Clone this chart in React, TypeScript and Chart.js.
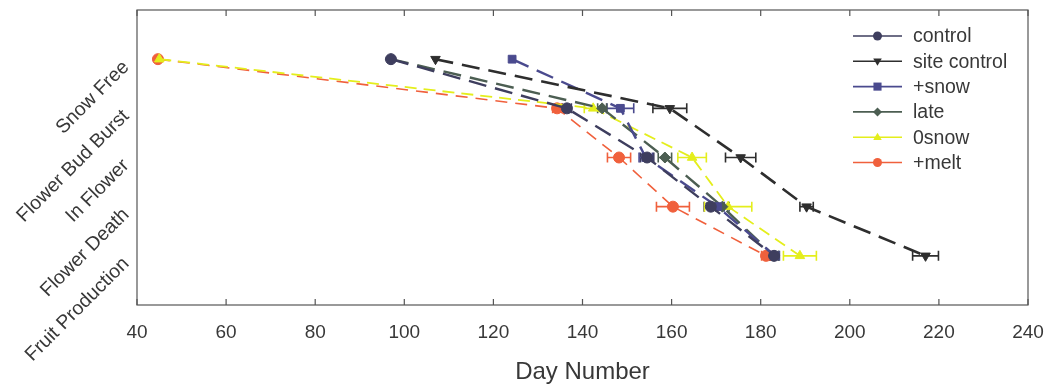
import React, { useEffect, useRef } from "react";
import { Chart, registerables } from "chart.js";

Chart.register(...registerables);

const categories = ["Snow Free", "Flower Bud Burst", "In Flower", "Flower Death", "Fruit Production"];
const seriesNames = ["control", "site control", "+snow", "late", "0snow", "+melt"];

const controlDays = [97, 136.5, 154.5, 168.8, 183];
const siteControlDays = [107, 159.6, 175.5, 190.3, 217];
const plusSnowDays = [124.2, 148.5, 154.2, 170.3, 183.2];
const lateDays = [97, 144.4, 158.5, 171.4, 183];
const zeroSnowDays = [45, 142.4, 164.6, 172.7, 188.8];
const plusMeltDays = [44.7, 134.3, 148.2, 160.3, 181.2];

const controlErr = [0, 1, 1.5, 1.5, 1];
const siteControlErr = [0, 3.8, 3.4, 1.5, 2.9];
const plusSnowErr = [0, 3, 1.5, 1.5, 1];
const lateErr = [0, 1, 1.5, 1.5, 1];
const zeroSnowErr = [0, 2, 3.2, 5.3, 3.7];
const plusMeltErr = [0, 1, 2.6, 3.7, 1];

const xMin = 40;
const xMax = 240;
const xStep = 20;

const allDays = [controlDays, siteControlDays, plusSnowDays, lateDays, zeroSnowDays, plusMeltDays];
const allErrs = [controlErr, siteControlErr, plusSnowErr, lateErr, zeroSnowErr, plusMeltErr];
const colors = ["#3e3e5e", "#2e2e2e", "#4a4a8e", "#4c5e52", "#e4ee1c", "#f0603c"];
const pointStyles = ["circle", "triangle", "rect", "rectRot", "triangle", "circle"];
const rotations = [0, 180, 0, 0, 0, 0];
const dashes = [[18, 9], [18, 9], [18, 9], [18, 9], [12, 7], [12, 8]];
const widths = [2.4, 2.6, 2.4, 2.4, 1.8, 1.6];

const FONT = "'Liberation Sans', Arial, sans-serif";
const TEXT = "#383838";

function drawMarker(ctx: CanvasRenderingContext2D, style: string, rot: number, x: number, y: number, r: number) {
  ctx.save();
  ctx.translate(x, y);
  ctx.rotate((rot * Math.PI) / 180);
  ctx.beginPath();
  if (style === "circle") {
    ctx.arc(0, 0, r, 0, Math.PI * 2);
  } else if (style === "rect") {
    const s = r * 0.9;
    ctx.rect(-s, -s, 2 * s, 2 * s);
  } else if (style === "rectRot") {
    ctx.moveTo(0, -r);
    ctx.lineTo(r, 0);
    ctx.lineTo(0, r);
    ctx.lineTo(-r, 0);
    ctx.closePath();
  } else if (style === "triangle") {
    ctx.moveTo(0, -r);
    ctx.lineTo(r * 0.95, r * 0.6);
    ctx.lineTo(-r * 0.95, r * 0.6);
    ctx.closePath();
  }
  ctx.fill();
  ctx.restore();
}

const frameAndExtras = {
  id: "frameAndExtras",
  beforeDatasetsDraw(chart: any) {
    const ctx = chart.ctx as CanvasRenderingContext2D;
    const xs = chart.scales.x;
    const ys = chart.scales.y;
    ctx.save();
    allDays.forEach((days, si) => {
      const errs = allErrs[si];
      ctx.strokeStyle = colors[si];
      ctx.lineWidth = 1.6;
      ctx.setLineDash([]);
      days.forEach((d, ci) => {
        const e = errs[ci];
        if (!e) return;
        const y = ys.getPixelForValue(ci + 1);
        const x1 = xs.getPixelForValue(d - e);
        const x2 = xs.getPixelForValue(d + e);
        ctx.beginPath();
        ctx.moveTo(x1, y);
        ctx.lineTo(x2, y);
        ctx.moveTo(x1, y - 5);
        ctx.lineTo(x1, y + 5);
        ctx.moveTo(x2, y - 5);
        ctx.lineTo(x2, y + 5);
        ctx.stroke();
      });
    });
    ctx.restore();
  },
  afterDraw(chart: any) {
    const ctx = chart.ctx as CanvasRenderingContext2D;
    const { left, right, top, bottom } = chart.chartArea;
    const xs = chart.scales.x;
    ctx.save();
    ctx.strokeStyle = "#555";
    ctx.lineWidth = 1.2;
    ctx.setLineDash([]);
    ctx.strokeRect(left, top, right - left, bottom - top);
    xs.ticks.forEach((t: any) => {
      const px = xs.getPixelForValue(t.value);
      ctx.beginPath();
      ctx.moveTo(px, bottom);
      ctx.lineTo(px, bottom - 6);
      ctx.moveTo(px, top);
      ctx.lineTo(px, top + 6);
      ctx.stroke();
    });
    // legend
    const lx0 = right - 175;
    const lx1 = right - 126;
    const tx = right - 115;
    ctx.font = `19.5px ${FONT}`;
    ctx.textBaseline = "middle";
    ctx.textAlign = "left";
    seriesNames.forEach((name, i) => {
      const y = top + 26 + i * 25.3;
      ctx.strokeStyle = colors[i];
      ctx.fillStyle = colors[i];
      ctx.lineWidth = 1.6;
      ctx.beginPath();
      ctx.moveTo(lx0, y);
      ctx.lineTo(lx1, y);
      ctx.stroke();
      drawMarker(ctx, pointStyles[i], rotations[i], (lx0 + lx1) / 2, y, 4.5);
      ctx.fillStyle = TEXT;
      ctx.fillText(name, tx, y + 1);
    });
    ctx.restore();
  },
};

export default function App() {
  const ref = useRef<HTMLCanvasElement | null>(null);
  useEffect(() => {
    if (!ref.current) return;
    const datasets = allDays.map((days, si) => ({
      label: seriesNames[si],
      data: days.map((d, ci) => ({ x: d, y: ci + 1 })),
      borderColor: colors[si],
      backgroundColor: colors[si],
      borderWidth: widths[si],
      borderDash: dashes[si],
      pointStyle: pointStyles[si] as any,
      pointRotation: rotations[si],
      pointRadius: 5.5,
      pointBorderWidth: 1,
      showLine: true,
      tension: 0,
    }));
    const chart = new Chart(ref.current, {
      type: "scatter",
      data: { datasets },
      plugins: [frameAndExtras],
      options: {
        responsive: false,
        animation: false,
        layout: { padding: { left: 0, right: 26, top: 10, bottom: 0 } },
        plugins: { legend: { display: false }, tooltip: { enabled: false } },
        scales: {
          x: {
            type: "linear",
            min: xMin,
            max: xMax,
            grid: { display: false },
            border: { display: false },
            ticks: { stepSize: xStep, padding: 8, color: TEXT, font: { family: FONT, size: 19 } },
            title: {
              display: true,
              text: "Day Number",
              color: TEXT,
              font: { family: FONT, size: 24 },
              padding: { top: 0, bottom: -3 },
            },
            afterFit: (s: any) => {
              s.height = 79;
              s.paddingLeft = 0;
              s.paddingRight = 0;
            },
          },
          y: {
            type: "linear",
            min: 0,
            max: 6,
            reverse: true,
            grid: { display: false },
            border: { display: false },
            afterBuildTicks: (s: any) => {
              s.ticks = categories.map((_, i) => ({ value: i + 1 }));
            },
            ticks: {
              minRotation: 45,
              maxRotation: 45,
              padding: 3,
              labelOffset: 5,
              color: TEXT,
              font: { family: FONT, size: 19.5 },
              callback: (v: any) => categories[Number(v) - 1] ?? "",
            },
            afterFit: (s: any) => {
              s.width = 137;
              s.paddingTop = 0;
              s.paddingBottom = 0;
            },
          },
        },
      },
    });
    return () => chart.destroy();
  }, []);
  return (
    <div style={{ position: "absolute", left: 0, top: 0, width: 1054, height: 384, background: "#fff" }}>
      <canvas ref={ref} width={1054} height={384} />
    </div>
  );
}
